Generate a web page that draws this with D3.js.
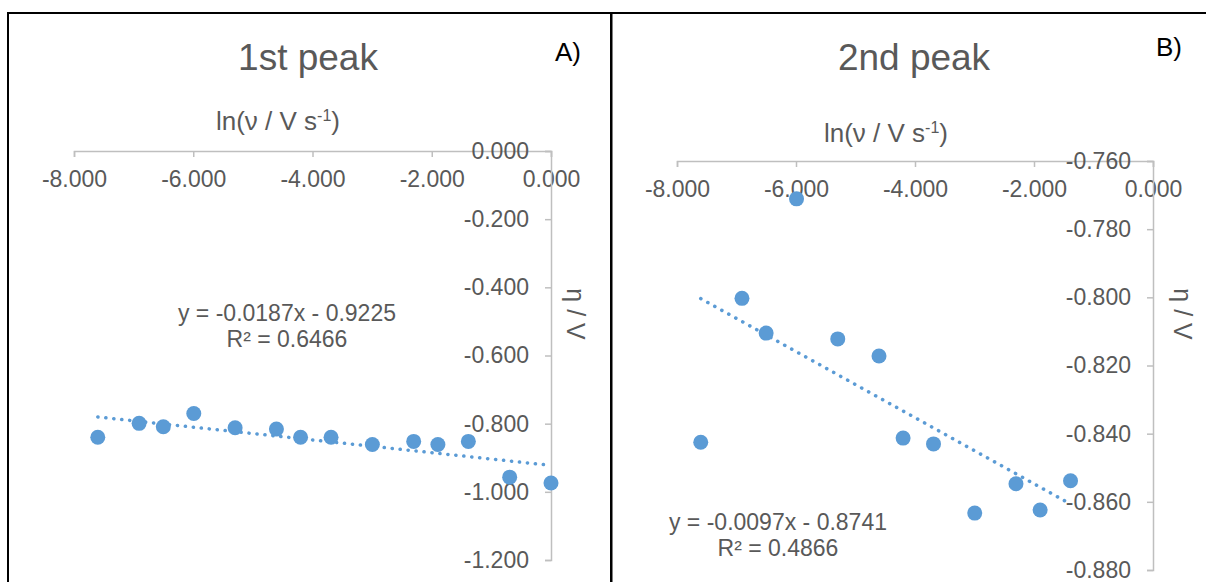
<!DOCTYPE html>
<html>
<head>
<meta charset="utf-8">
<script src="https://cdn.jsdelivr.net/npm/d3@7"></script>
<style>
  html, body { margin: 0; padding: 0; background: #ffffff; }
  svg { display: block; }
  text { font-family: "Liberation Sans", Arial, sans-serif; }
</style>
</head>
<body>
<svg id="chart" width="1206" height="582"></svg>
<script>
// ---- data ----
const lnRate = [-7.601, -6.908, -6.502, -5.991, -5.298, -4.605, -4.200, -3.689, -2.996, -2.303, -1.897, -1.386, -0.693, 0.000];
const eta1 = [-0.840, -0.799, -0.809, -0.770, -0.812, -0.816, -0.840, -0.840, -0.861, -0.852, -0.861, -0.852, -0.957, -0.974];
const lnRate2 = [-7.601, -6.908, -6.502, -5.991, -5.298, -4.605, -4.200, -3.689, -2.996, -2.303, -1.897, -1.386];
const eta2 = [-0.8425, -0.8003, -0.8105, -0.7711, -0.8122, -0.8172, -0.8413, -0.8430, -0.8633, -0.8547, -0.8624, -0.8538];
const xTicks = [-8, -6, -4, -2, 0];
const yTicks1 = [0, -0.2, -0.4, -0.6, -0.8, -1.0, -1.2];
const yTicks2 = [-0.76, -0.78, -0.80, -0.82, -0.84, -0.86, -0.88];
const titles = ["1st peak", "2nd peak"];
const panelTags = ["A)", "B)"];
const fitSlope = [-0.0187, -0.0097];
const fitIntercept = [-0.9225, -0.8741];
const fitR2 = ["0.6466", "0.4866"];

const svg = d3.select("#chart");
const BLUE = "#5B9BD5", GRAY = "#595959", AXIS = "#BFBFBF";
const fmt = d => d3.format(".3f")(d).replace("\u2212", "-");

// panel frames
svg.append("rect").attr("x", 8).attr("y", 13).attr("width", 603).attr("height", 600)
  .attr("fill", "none").attr("stroke", "#000").attr("stroke-width", 2);
svg.append("rect").attr("x", 611.5).attr("y", 13).attr("width", 620).attr("height", 600)
  .attr("fill", "none").attr("stroke", "#000").attr("stroke-width", 2);

function panel(cfg) {
  const x = d3.scaleLinear().domain([-8, 0]).range(cfg.xr);
  const y = d3.scaleLinear().domain(cfg.yd).range(cfg.yr);
  const g = svg.append("g");

  // title
  g.append("text").attr("x", cfg.titleX).attr("y", 70).attr("text-anchor", "middle")
    .attr("font-size", 37).attr("fill", GRAY).text(cfg.title);
  g.append("text").attr("x", cfg.tagX).attr("y", cfg.tagY).attr("text-anchor", "middle")
    .attr("font-size", 26).attr("fill", "#000").text(cfg.tag);

  // x axis (at top, value = y-domain max)
  const xAxis = d3.axisBottom(x).tickValues(xTicks).tickSizeInner(6).tickSizeOuter(6)
    .tickPadding(14).tickFormat(fmt);
  const gx = g.append("g").attr("transform", `translate(0,${y(cfg.yd[1])})`).call(xAxis);
  gx.select(".domain").attr("stroke", AXIS).attr("stroke-width", 1.5);
  gx.selectAll(".tick line").attr("stroke", AXIS).attr("stroke-width", 1.5);
  gx.selectAll(".tick text").attr("font-size", 23).attr("fill", GRAY)
    .attr("font-family", "Liberation Sans, Arial, sans-serif");

  // y axis (at x = 0)
  const yAxis = d3.axisLeft(y).tickValues(cfg.yTicks).tickSizeInner(6).tickSizeOuter(6)
    .tickPadding(16).tickFormat(fmt);
  const gy = g.append("g").attr("transform", `translate(${x(0)},0)`).call(yAxis);
  gy.select(".domain").attr("stroke", AXIS).attr("stroke-width", 1.5);
  gy.selectAll(".tick line").attr("stroke", AXIS).attr("stroke-width", 1.5);
  gy.selectAll(".tick text").attr("font-size", 23).attr("fill", GRAY)
    .attr("font-family", "Liberation Sans, Arial, sans-serif");

  // axis titles
  const xt = g.append("text").attr("x", cfg.xTitleX).attr("y", cfg.xTitleY)
    .attr("text-anchor", "middle").attr("font-size", 26).attr("fill", GRAY);
  xt.append("tspan").text("ln(ν / V s");
  xt.append("tspan").attr("dy", -9).attr("font-size", 16).text("-1");
  xt.append("tspan").attr("dy", 9).text(")");

  g.append("text").attr("transform", `translate(${cfg.yTitleX},314) rotate(90)`)
    .attr("text-anchor", "middle").attr("font-size", 25).attr("fill", GRAY).text("η / V");

  // trend line
  const x0 = d3.min(cfg.xs), x1 = d3.max(cfg.xs);
  const fit = [x0, x1].map(v => [v, cfg.slope * v + cfg.intercept]);
  g.append("path").attr("d", d3.line().x(d => x(d[0])).y(d => y(d[1]))(fit))
    .attr("fill", "none").attr("stroke", BLUE).attr("stroke-width", 3.5)
    .attr("stroke-linecap", "round").attr("stroke-dasharray", "0.2 7.8");

  // points
  g.selectAll("circle.pt").data(cfg.xs.map((v, i) => [v, cfg.ys[i]])).join("circle")
    .attr("class", "pt").attr("cx", d => x(d[0])).attr("cy", d => y(d[1])).attr("r", 7.5)
    .attr("fill", BLUE);

  // equation label
  g.append("text").attr("x", cfg.eqX).attr("y", cfg.eqY).attr("text-anchor", "middle")
    .attr("font-size", 23).attr("fill", GRAY)
    .text(`y = ${cfg.slope.toFixed(4)}x - ${Math.abs(cfg.intercept).toFixed(4)}`);
  g.append("text").attr("x", cfg.eqX).attr("y", cfg.eqY + 26).attr("text-anchor", "middle")
    .attr("font-size", 23).attr("fill", GRAY).text(`R² = ${cfg.r2}`);
}

panel({
  xr: [74, 551], yd: [-1.2, 0], yr: [560, 151], yTicks: yTicks1,
  xs: lnRate, ys: eta1, title: titles[0], titleX: 308, tag: panelTags[0], tagX: 568, tagY: 61,
  xTitleX: 278, xTitleY: 130, yTitleX: 567,
  slope: fitSlope[0], intercept: fitIntercept[0], r2: fitR2[0], eqX: 287, eqY: 321
});
panel({
  xr: [677, 1153], yd: [-0.88, -0.76], yr: [570, 161], yTicks: yTicks2,
  xs: lnRate2, ys: eta2, title: titles[1], titleX: 914, tag: panelTags[1], tagX: 1169, tagY: 56,
  xTitleX: 886, xTitleY: 142, yTitleX: 1174,
  slope: fitSlope[1], intercept: fitIntercept[1], r2: fitR2[1], eqX: 778, eqY: 530
});
</script>
</body>
</html>
